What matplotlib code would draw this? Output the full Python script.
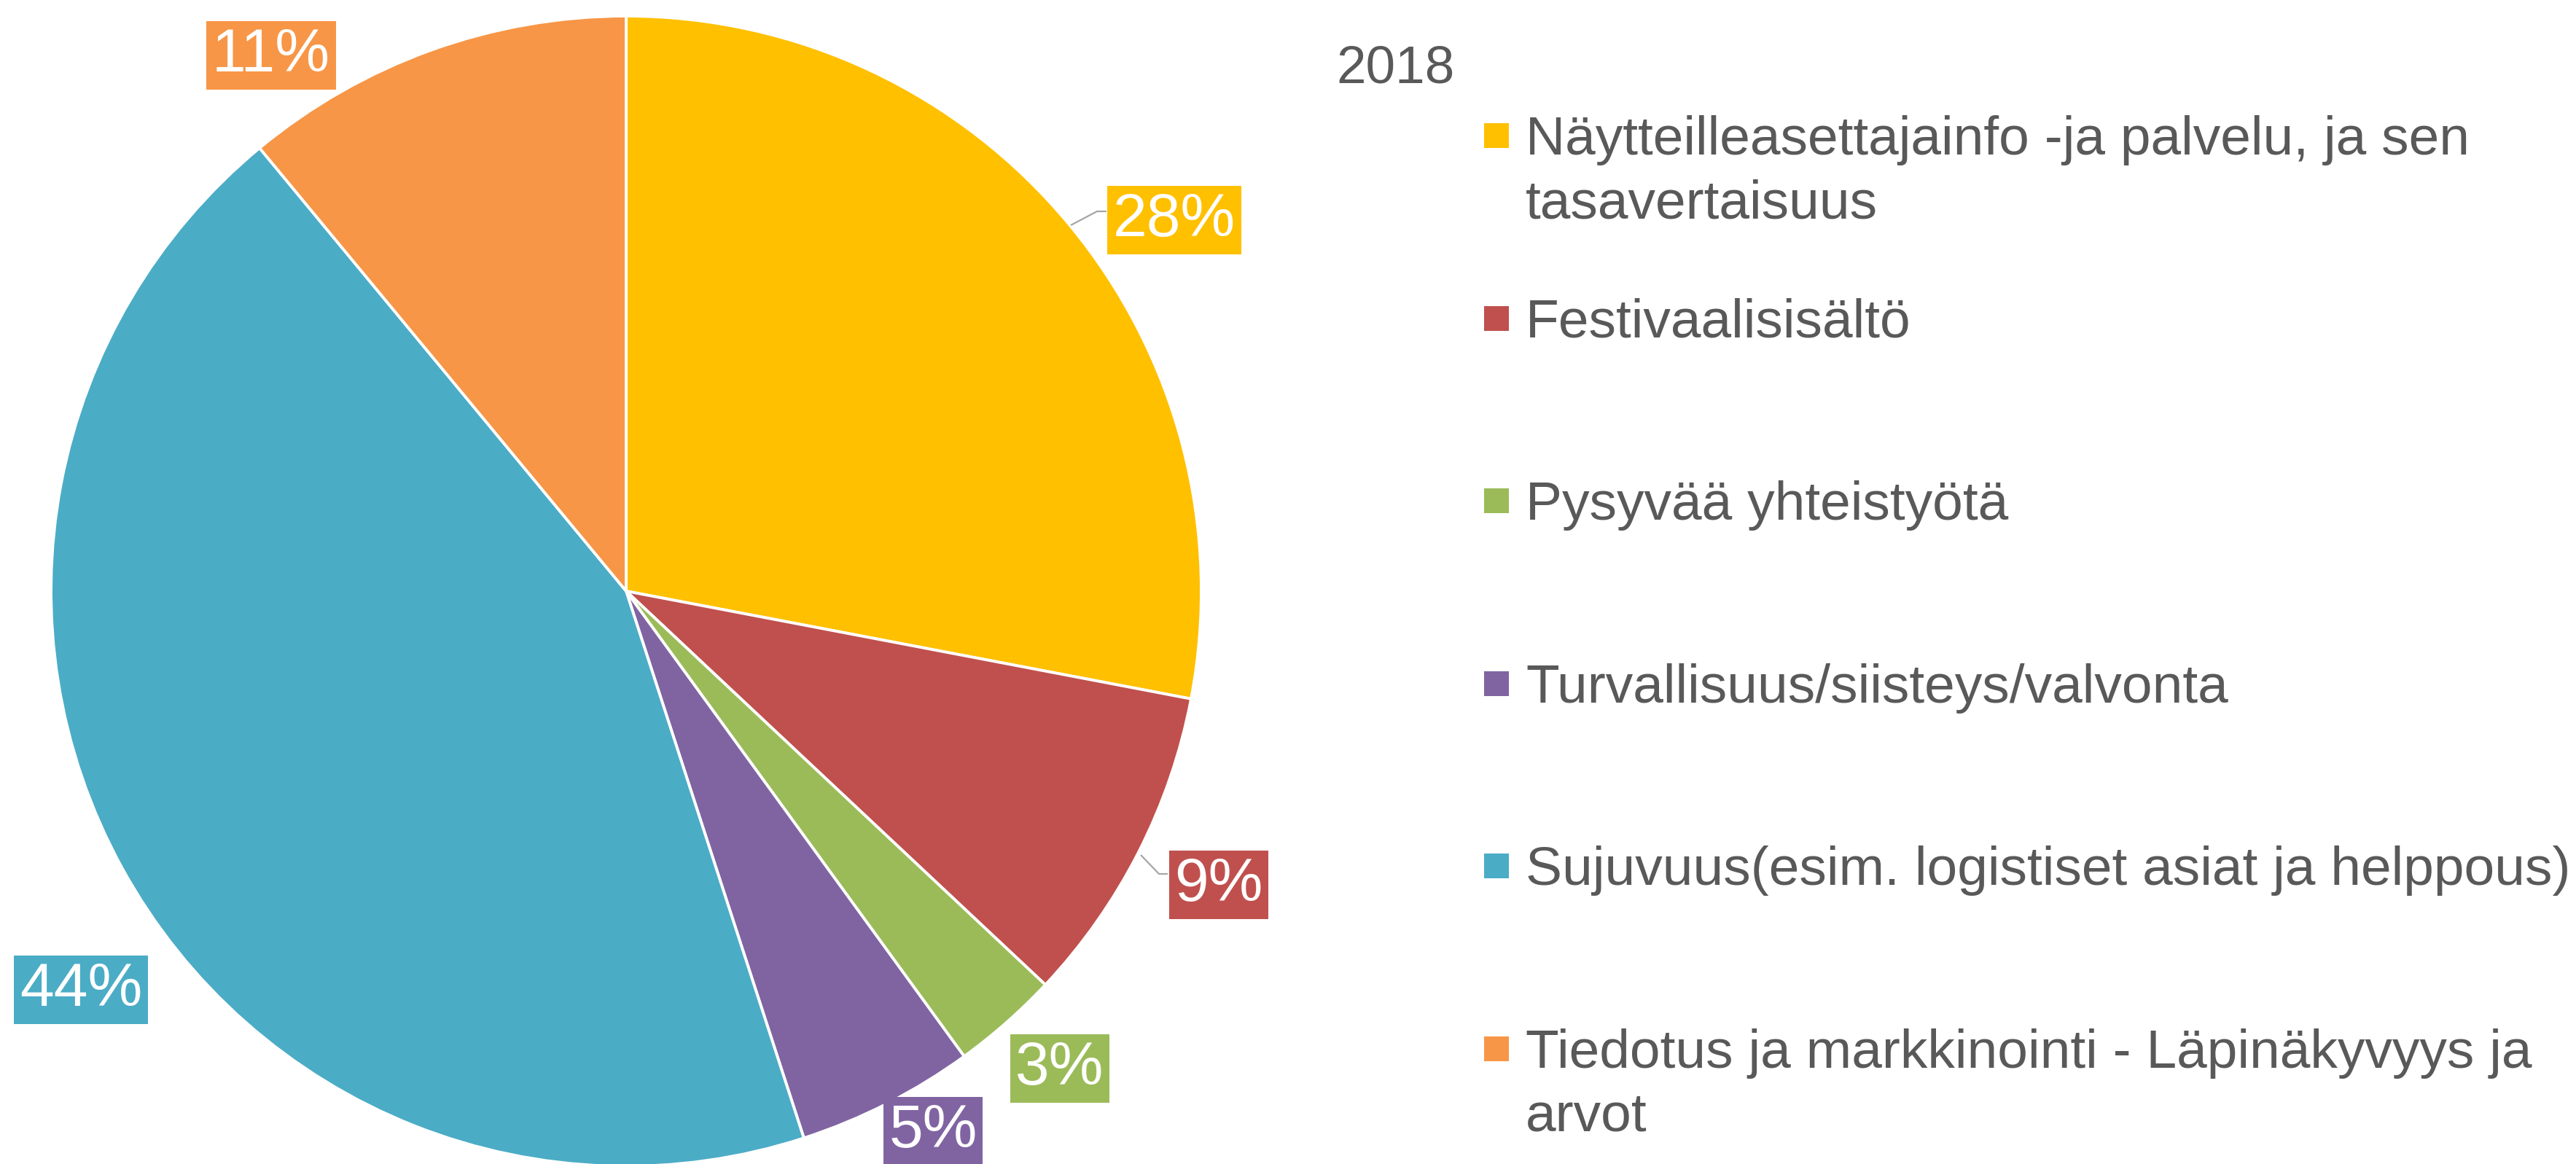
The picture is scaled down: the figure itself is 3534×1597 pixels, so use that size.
import matplotlib
matplotlib.use("Agg")
import matplotlib.pyplot as plt
from matplotlib.patches import Rectangle

# ---- data ----
categories = [
    "Näytteilleasettajainfo -ja palvelu, ja sen\ntasavertaisuus",
    "Festivaalisisältö",
    "Pysyvää yhteistyötä",
    "Turvallisuus/siisteys/valvonta",
    "Sujuvuus(esim. logistiset asiat ja helppous)",
    "Tiedotus ja markkinointi - Läpinäkyvyys ja\narvot",
]
values = [28, 9, 3, 5, 44, 11]
legend_title = "2018"

# ---- style ----
colors = ["#FFC000", "#C0504D", "#9BBB59", "#8064A2", "#4BACC6", "#F79646"]
text_color = "#595959"
plt.rcParams["font.family"] = ["Liberation Sans", "DejaVu Sans"]

W, H, DPI = 3534, 1597, 200
fig = plt.figure(figsize=(W / DPI, H / DPI), dpi=DPI)

# pie geometry in pixels
cx, cy, r = 859, 811, 789
ax = fig.add_axes([(cx - r) / W, (H - cy - r) / H, 2 * r / W, 2 * r / H])
wedges, _ = ax.pie(values, colors=colors, startangle=90, counterclock=False,
                   radius=1.0, wedgeprops=dict(edgecolor="white", linewidth=1.4))
for w in wedges:
    w.set_clip_on(False)
ax.set_xlim(-1, 1)
ax.set_ylim(-1, 1)
ax.set_aspect("equal", adjustable="box")
ax.axis("off")

# overlay axes in pixel coordinates (y downward)
ov = fig.add_axes([0, 0, 1, 1])
ov.set_xlim(0, W)
ov.set_ylim(H, 0)
ov.axis("off")
ov.patch.set_alpha(0)

# data label positions (box centers, pixels)
label_pos = [(1611, 302), (1672, 1214), (1454, 1466), (1280, 1552), (111, 1358), (372, 76)]
label_fs = 84 * 72 / DPI
for v, c, (lx, ly) in zip(values, colors, label_pos):
    ov.text(lx, ly, f"{v}%", ha="center", va="center", color="white",
            fontsize=label_fs,
            bbox=dict(boxstyle="square,pad=0.09", facecolor=c, edgecolor="none"))

# leader lines
leaders = [
    [(1469, 309), (1505, 290), (1518, 290)],
    [(1565, 1173), (1590, 1199), (1602, 1199)],
]
for pts in leaders:
    xs, ys = zip(*pts)
    ov.plot(xs, ys, color="#A6A6A6", lw=0.8, solid_capstyle="butt", zorder=1)

# legend title
ov.text(1833, 114, legend_title, ha="left", va="baseline", color=text_color,
        fontsize=73 * 72 / DPI)

# legend entries
leg_fs = 75 * 72 / DPI
first_baseline, step = 212, 250.6
for i, (cat, c) in enumerate(zip(categories, colors)):
    base = first_baseline + i * step
    ov.add_patch(Rectangle((2036, base - 26 - 17), 34, 34, facecolor=c, edgecolor="none"))
    lines = cat.split("\n")
    for j, line in enumerate(lines):
        ov.text(2093, base + j * 87, line, ha="left", va="baseline",
                color=text_color, fontsize=leg_fs)

fig.savefig("out.png", dpi=DPI, facecolor="white")
